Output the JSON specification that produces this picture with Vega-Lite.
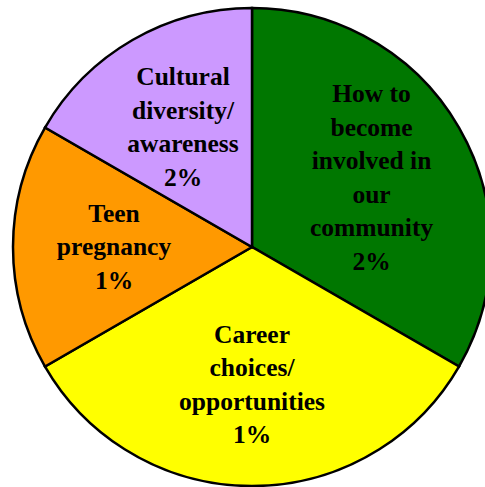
{
  "$schema": "https://vega.github.io/schema/vega-lite/v6.json",
  "width": 485,
  "height": 487,
  "autosize": {"type": "fit", "contains": "padding"},
  "padding": {"left": 19, "top": 7, "right": 0, "bottom": 0},
  "background": "white",
  "view": {"stroke": null},
  "data": {"values": [
    {"idx": 1, "topic": "How to become involved in our community", "share": 2, "label": "How to\nbecome\ninvolved in\nour\ncommunity\n2%"},
    {"idx": 2, "topic": "Career choices/ opportunities", "share": 2, "label": "Career\nchoices/\nopportunities\n1%"},
    {"idx": 3, "topic": "Teen pregnancy", "share": 1, "label": "Teen\npregnancy\n1%"},
    {"idx": 4, "topic": "Cultural diversity/ awareness", "share": 1, "label": "Cultural\ndiversity/\nawareness\n2%"}
  ]},
  "encoding": {
    "theta": {"field": "share", "type": "quantitative", "stack": true},
    "order": {"field": "idx", "type": "quantitative"}
  },
  "layer": [
    {
      "mark": {"type": "arc", "outerRadius": 239, "stroke": "black", "strokeWidth": 2.5},
      "encoding": {
        "color": {
          "field": "topic", "type": "nominal", "legend": null,
          "scale": {
            "domain": ["How to become involved in our community", "Career choices/ opportunities", "Teen pregnancy", "Cultural diversity/ awareness"],
            "range": ["#007700", "#FFFF00", "#FF9900", "#CC99FF"]
          }
        }
      }
    },
    {
      "mark": {"type": "text", "radius": 138, "font": "Liberation Serif", "fontWeight": "bold", "fontSize": 25.5, "lineHeight": 33.5, "lineBreak": "\n", "align": "center", "baseline": "middle", "color": "black",
        "dy": {"expr": "-(length(split(datum.label, '\\n')) - 1) * 33.5 / 2"}},
      "encoding": {"text": {"field": "label", "type": "nominal"}}
    }
  ]
}
